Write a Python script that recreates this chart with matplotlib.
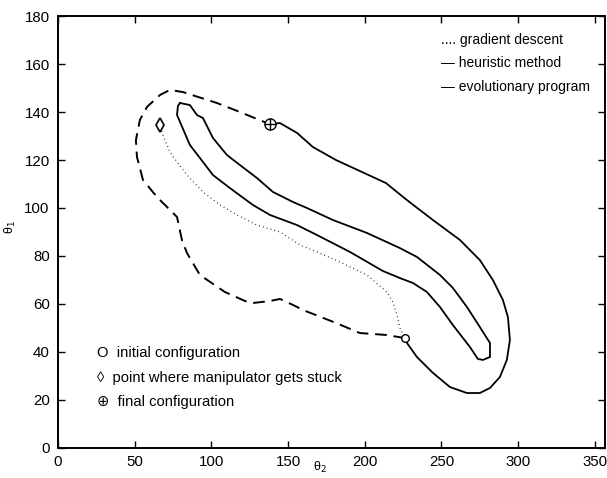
import matplotlib
matplotlib.use("Agg")
import matplotlib.pyplot as plt

plt.rcParams['font.family'] = ['Liberation Sans', 'DejaVu Sans']

# Configuration-space obstacle (closed contour)
obstacle_x = [79.5, 86.0, 90.6, 94.5, 101.0, 110.1, 118.6, 129.7, 140.1, 153.2, 162.3,
              179.2, 201.4, 222.9, 234.0, 249.0, 257.4, 266.6, 275.0, 281.6, 281.6,
              277.0, 273.7,
              268.5, 257.4, 249.0, 240.5, 231.4, 222.9, 211.8, 190.3, 168.8, 155.8,
              138.2, 127.1, 112.1, 101.0, 94.5, 86.0, 77.6, 78.2, 79.5]
obstacle_y = [143.75, 142.9, 138.75, 137.5, 129.2, 122.1, 117.9, 112.5, 106.7, 102.5, 100.0,
              95.0, 89.6, 83.3, 79.6, 72.1, 66.7, 58.75, 50.4, 43.75, 37.9,
              36.7, 37.1,
              42.1, 51.25, 58.75, 65.0, 68.75, 70.8, 73.75, 81.7, 88.75, 92.9,
              97.1, 101.25, 108.3, 113.75, 119.2, 126.25, 138.75, 142.5, 143.75]

# Gradient descent path (initial -> stuck point)
grad_x = [225.5, 222.9, 221.0, 218.3, 214.4, 201.4, 183.8, 168.8, 157.7, 144.7, 129.7,
          116.7, 105.6, 94.5, 84.1, 77.6, 73.0, 68.4, 66.5]
grad_y = [46.7, 50.0, 55.4, 60.8, 65.0, 72.1, 77.5, 81.7, 84.6, 90.0, 92.9,
          97.1, 101.25, 106.7, 113.75, 119.2, 123.3, 130.4, 134.6]

# Heuristic method path (initial -> around left -> final)
heur_x = [226.2, 213.8, 196.8, 181.2, 159.7, 153.2, 144.7, 138.2, 127.1, 121.9, 108.8,
          92.5, 84.1, 80.8, 77.6, 64.5, 55.4, 51.5, 50.8, 53.4, 58.0, 66.5, 73.0,
          81.5, 103.6, 118.6, 136.2]
heur_y = [45.8, 47.1, 47.9, 52.1, 57.5, 59.6, 62.1, 61.25, 60.4, 61.25, 65.0,
          72.1, 81.25, 86.7, 96.25, 104.6, 111.7, 121.25, 128.3, 136.7, 142.1, 147.1, 149.2,
          148.3, 143.75, 140.0, 135.4]

# Evolutionary program path (final -> around right -> initial)
evo_x = [138.2, 144.7, 155.8, 166.2, 181.2, 213.8, 227.5, 244.4, 262.0, 275.0, 283.5,
         290.0, 293.3, 294.6, 292.6, 288.1, 281.6, 275.0, 266.6, 255.5, 244.4, 234.0,
         227.5, 226.2]
evo_y = [135.0, 135.4, 131.3, 125.4, 120.0, 110.4, 103.3, 95.0, 86.7, 78.3, 70.0,
         61.7, 54.6, 45.0, 36.7, 29.6, 25.0, 22.9, 22.9, 25.4, 31.3, 37.9,
         43.75, 45.8]

initial_pt = (226.2, 45.8)
stuck_pt = (66.5, 134.6)
final_pt = (138.2, 135.0)

x_ticks = [0, 50, 100, 150, 200, 250, 300, 350]
y_ticks = [0, 20, 40, 60, 80, 100, 120, 140, 160, 180]

fig = plt.figure(figsize=(6.07, 4.78), dpi=100)
ax = fig.add_axes([0.0955, 0.0628, 0.901, 0.9037])

ax.plot(obstacle_x, obstacle_y, color='black', lw=1.3)
ax.plot(grad_x, grad_y, color='black', lw=0.9, linestyle=(0, (0.6, 2.6)))
ax.plot(heur_x, heur_y, color='black', lw=1.4, linestyle=(0, (6, 3.5)))
ax.plot(evo_x, evo_y, color='black', lw=1.3)

ax.plot(*initial_pt, marker='o', ms=5.5, mfc='white', mec='black', mew=1.0)
ax.plot(*stuck_pt, marker='d', ms=7, mfc='white', mec='black', mew=1.2)
ax.plot(*final_pt, marker='o', ms=8, mfc='white', mec='black', mew=1.0)
ax.plot(*final_pt, marker='+', ms=8, color='black', mew=1.0)

ax.set_xlim(0, 356.5)
ax.set_ylim(0, 180)
ax.set_xticks(x_ticks)
ax.set_yticks(y_ticks)
ax.tick_params(direction='in', length=5, width=1.0, top=True, right=True,
               labelsize=10.8)
ax.tick_params(axis='x', pad=5)
ax.tick_params(axis='y', pad=6)
for s in ax.spines.values():
    s.set_linewidth(1.4)

ax.set_xlabel('θ$_2$', fontsize=9)
ax.set_ylabel('θ$_1$', fontsize=9)
ax.xaxis.set_label_coords(0.479, -0.027)
ax.yaxis.set_label_coords(-0.073, 0.512)

# Line-style legend (upper right)
leg_font = dict(fontsize=10, ha='left', va='center', transform=ax.transAxes)
ax.text(0.700, 0.945, '.... gradient descent', **leg_font)
ax.text(0.700, 0.891, '— heuristic method', **leg_font)
ax.text(0.700, 0.836, '— evolutionary program', **leg_font)

# Marker legend (lower left)
leg_font2 = dict(leg_font, fontsize=10.6)
ax.text(0.0713, 0.220, 'O  initial configuration', **leg_font2)
ax.text(0.0713, 0.162, '◊  point where manipulator gets stuck', **leg_font2)
ax.text(0.0713, 0.106, '⊕  final configuration', **leg_font2)

fig.savefig('out.png', dpi=100)
